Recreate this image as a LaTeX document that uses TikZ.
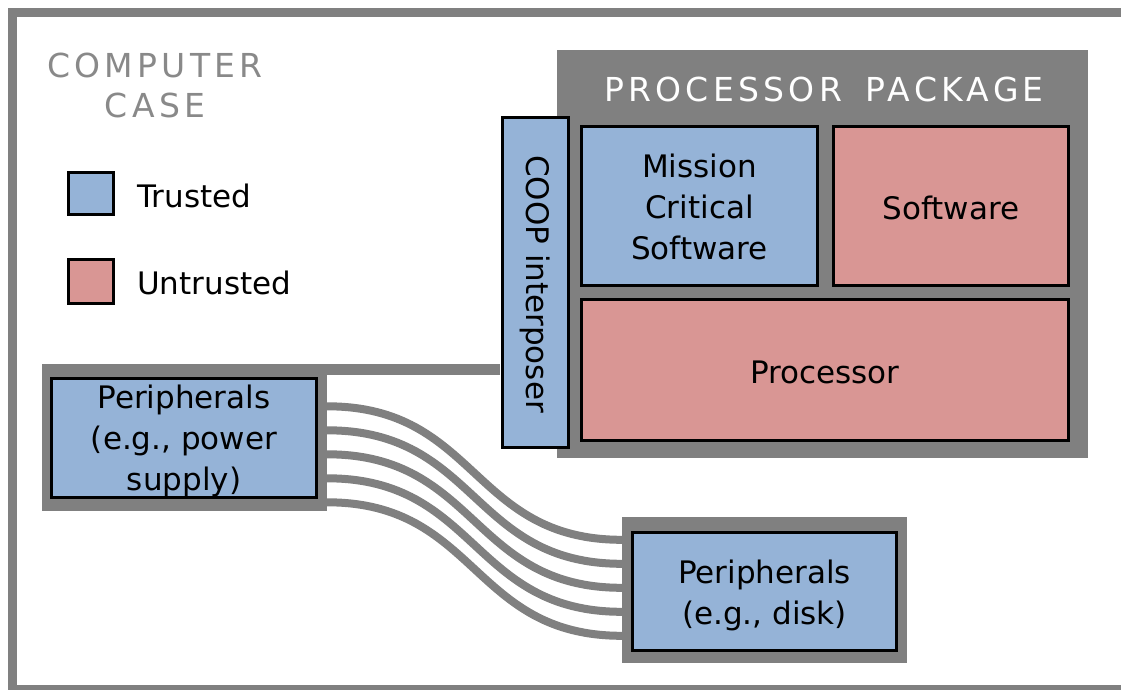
\documentclass[tikz,border=0pt]{standalone}
\usepackage{fontspec}
\setmainfont{DejaVu Sans}
\newfontfamily\spacedfont[LetterSpace=13]{DejaVu Sans}
\usetikzlibrary{calc}
\definecolor{trustblue}{RGB}{149,179,215}
\definecolor{untrustred}{RGB}{217,150,148}
\definecolor{wiregray}{RGB}{128,128,128}
\definecolor{labelgray}{RGB}{137,137,137}
\begin{document}
\begin{tikzpicture}[x=1pt,y=-1pt,
  box/.style={draw=black, line width=3pt, inner sep=0pt, align=center,
    font=\fontsize{31}{41}\selectfont},
  trusted/.style={box, fill=trustblue},
  untrusted/.style={box, fill=untrustred},
  boxlabel/.style={inner sep=0pt, align=center, font=\fontsize{31}{41}\selectfont},
  framebox/.style={fill=wiregray, inner sep=0pt},
  wire/.style={draw=wiregray, line width=8pt},
  caption/.style={inner sep=0pt, align=center,
    font=\spacedfont\fontsize{33}{40}\selectfont}]
\useasboundingbox (0,0) rectangle (1121,689);
\fill[white] (0,0) rectangle (1121,689);

% computer case outline (runs off the right and bottom edges)
\begin{scope}
  \clip (0,0) rectangle (1121,689);
  \draw[wiregray, line width=9pt] (12.5,12.5) rectangle (1140,689.5);
\end{scope}
\node[caption, text=labelgray] (casetitle) at (155,85) {COMPUTER\\CASE};

% legend
\node[trusted, minimum width=45, minimum height=42] (keytrusted) at (91,193.5) {};
\node[boxlabel, anchor=west] (keytrustedtext) at (137,196) {Trusted};
\node[untrusted, minimum width=45, minimum height=44] (keyuntrusted) at (91,281.5) {};
\node[boxlabel, anchor=west] (keyuntrustedtext) at (137,283) {Untrusted};

% processor package
\node[framebox, minimum width=531, minimum height=408] (pkg) at (822.5,254) {};
\node[caption, text=white] (pkgtitle) at (824,89) {PROCESSOR\hspace{9pt} PACKAGE};
\node[trusted, minimum width=236, minimum height=159] (mcs) at (699.5,206) {};
\node[boxlabel] (mcstext) at ($(mcs.center)+(0,1)$) {Mission\\Critical\\Software};
\node[untrusted, minimum width=235, minimum height=159] (sw) at (951,206) {};
\node[boxlabel] (swtext) at ($(sw.center)+(0,2)$) {Software};
\node[untrusted, minimum width=487, minimum height=141] (cpu) at (825,370) {};
\node[boxlabel] (cputext) at ($(cpu.center)+(0,2)$) {Processor};

% peripherals
\node[framebox, minimum width=285, minimum height=147] (psuframe) at (184.5,437.5) {};
\node[trusted, minimum width=265, minimum height=119] (psu) at (184,438) {};
\node[boxlabel] (psutext) at ($(psu.center)+(0,3)$) {Peripherals\\(e.g., power\\supply)};
\node[framebox, minimum width=285, minimum height=146] (diskframe) at (764.5,590) {};
\node[trusted, minimum width=264, minimum height=118] (disk) at (764.5,591.5) {};
\node[boxlabel] (disktext) at ($(disk.center)+(0,4)$) {Peripherals\\(e.g., disk)};

% cables between the two peripherals
\foreach \i in {0,...,4}
  \draw[wire] ($(psuframe.north east)+(0,42.5+24*\i)$)
    .. controls +(150,0) and +(-150,0) .. ($(diskframe.north west)+(0,23+24*\i)$);

% link from the power supply to the interposer
\coordinate (linkstart) at ($(psuframe.north east)+(0,5.5)$);
\node[trusted, minimum width=66, minimum height=330] (coop) at (535.5,282.5) {};
\node[boxlabel, rotate=-90] (coopText) at (535,284) {COOP interposer};
\draw[wiregray, line width=11pt, shorten >=1.5pt] (linkstart) -- (linkstart -| coop.west);
\end{tikzpicture}
\end{document}
